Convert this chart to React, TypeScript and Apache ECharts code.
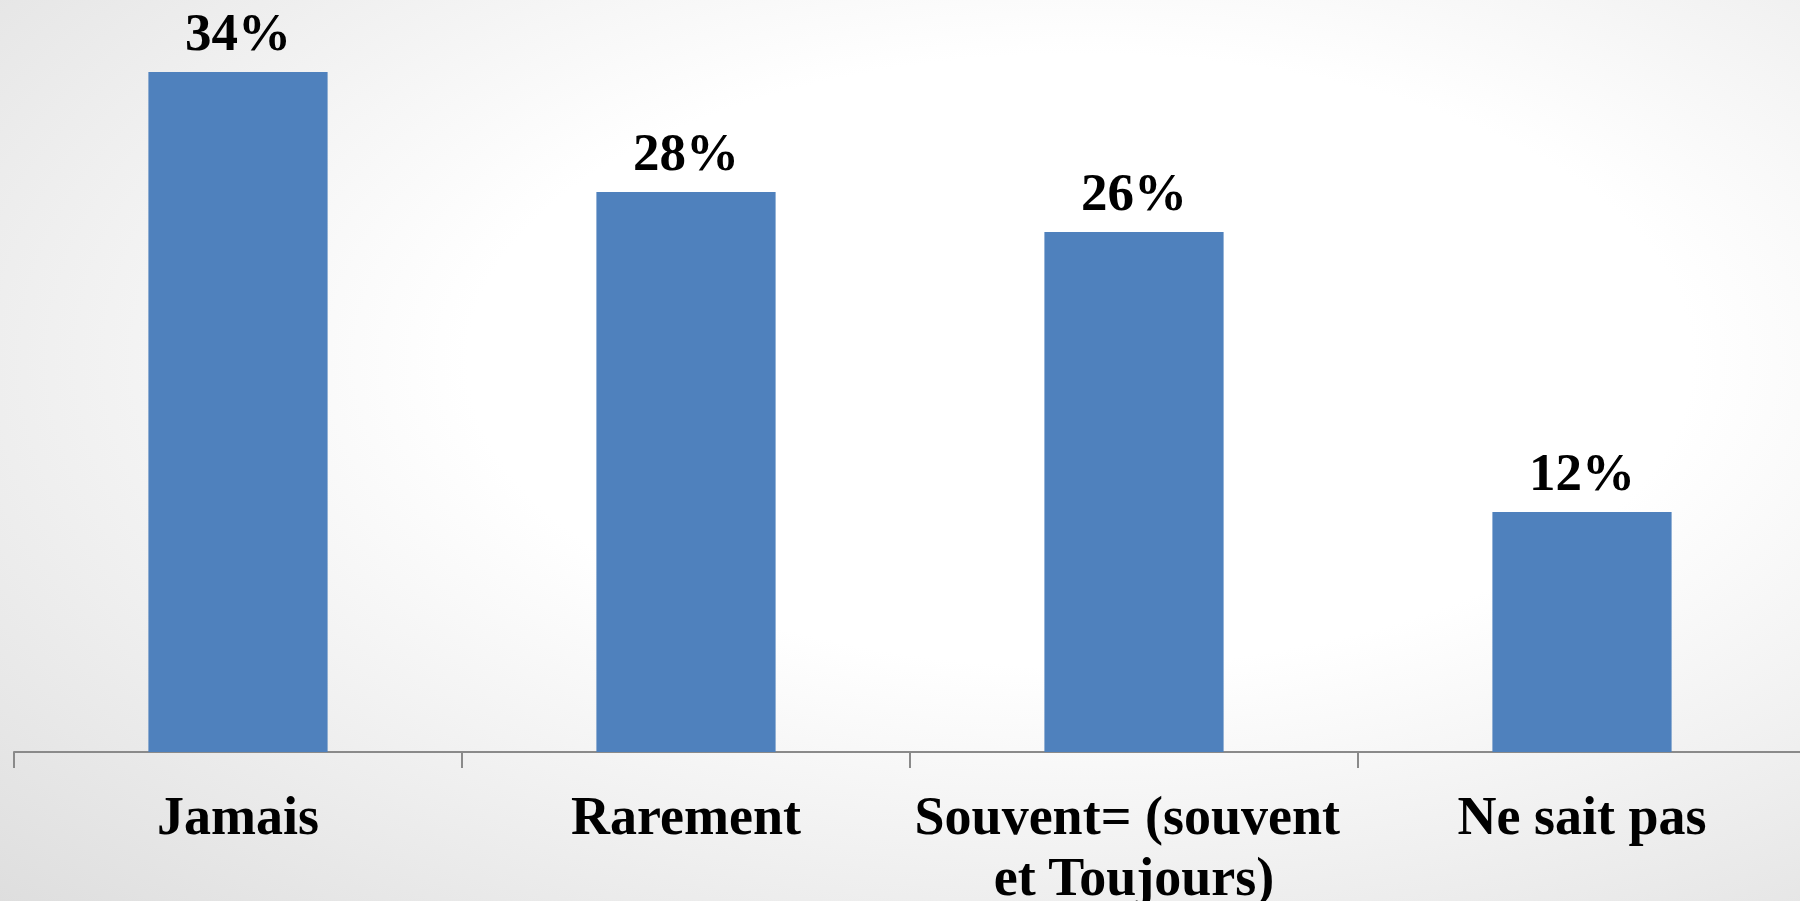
import React, { useEffect, useRef } from "react";
import * as echarts from "echarts";

const categories = ["Jamais", "Rarement", "Souvent= (souvent et Toujours)", "Ne sait pas"];
const values = [34, 28, 26, 12];

export default function App() {
  const ref = useRef<HTMLDivElement>(null);
  useEffect(() => {
    document.body.style.margin = "0";
    const chart = echarts.init(ref.current!, null, { renderer: "svg" });
    chart.setOption({
      animation: false,
      backgroundColor: {
        type: "radial",
        x: 0.6,
        y: 0.4,
        r: 0.85,
        colorStops: [
          { offset: 0, color: "#ffffff" },
          { offset: 0.4, color: "#ffffff" },
          { offset: 1, color: "#dedede" },
        ],
      },
      grid: { left: 14, top: 52, width: 1792, height: 700, outerBoundsMode: "none", containLabel: false },
      xAxis: {
        type: "category",
        data: categories,
        axisLine: { show: true, lineStyle: { color: "#8a8a8a", width: 2 } },
        axisTick: { show: true, length: 16, lineStyle: { color: "#8a8a8a", width: 2 } },
        axisLabel: {
          margin: 33,
          fontFamily: "Liberation Serif",
          fontWeight: "bold",
          fontSize: 54,
          lineHeight: 61,
          color: "#000",
          width: 440,
          overflow: "break",
          interval: 0,
        },
      },
      yAxis: {
        type: "value",
        min: 0,
        max: 35,
        show: false,
        splitLine: { show: false },
      },
      series: [
        {
          type: "bar",
          data: values,
          barCategoryGap: "60%",
          itemStyle: { color: "#4F81BD" },
          label: {
            show: true,
            position: "top",
            distance: 14,
            formatter: "{c}%",
            fontFamily: "Liberation Serif",
            fontWeight: "bold",
            fontSize: 53,
            color: "#000",
          },
        },
      ],
    });
    return () => chart.dispose();
  }, []);
  return <div ref={ref} style={{ width: 1800, height: 901 }} />;
}
